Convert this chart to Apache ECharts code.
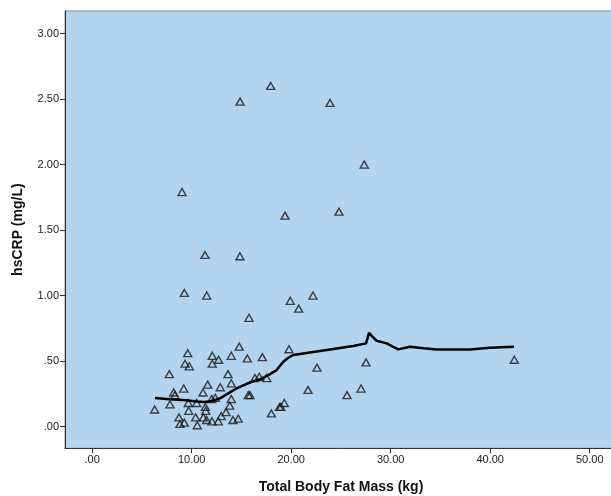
<!DOCTYPE html>
<html>
<head>
<meta charset="utf-8">
<script src="https://cdn.jsdelivr.net/npm/echarts@6/dist/echarts.min.js"></script>
<style>
  html, body { margin: 0; padding: 0; background: #fff; }
  #chart { width: 611px; height: 496px; }
</style>
</head>
<body>
<div id="chart"></div>
<script>
// fat mass (kg) and hsCRP (mg/L)
const fatMass = [
    6.28, 7.75, 7.82, 8.19, 8.32, 8.72, 8.82, 9.26, 9.20, 9.33,
    9.60, 9.76, 9.66, 9.70, 10.40, 10.50, 10.56, 11.14, 11.17, 11.37,
    11.41, 11.51, 11.61, 12.01, 12.04, 12.07, 12.07, 12.37, 12.67, 12.71,
    12.87, 12.97, 13.45, 13.65, 13.82, 13.98, 13.98, 13.98, 14.15, 14.68,
    14.78, 15.59, 15.69, 15.86, 16.36, 16.79, 17.10, 17.54, 18.01, 18.83,
    18.95, 19.31, 19.78, 21.69, 22.59, 25.61, 27.02, 27.52, 42.42,
    9.03, 19.38, 11.34, 14.85, 9.26, 11.51, 19.91, 20.75, 15.76, 17.94,
    23.90, 14.86, 27.34, 24.80, 22.19
];
const hsCRP = [
    0.13, 0.40, 0.17, 0.26, 0.24, 0.07, 0.02, 0.03, 0.29, 0.48,
    0.56, 0.46, 0.18, 0.12, 0.07, 0.18, 0.01, 0.26, 0.07, 0.15,
    0.12, 0.05, 0.32, 0.21, 0.04, 0.54, 0.48, 0.22, 0.04, 0.51,
    0.30, 0.08, 0.11, 0.40, 0.16, 0.54, 0.33, 0.21, 0.05, 0.06,
    0.61, 0.52, 0.24, 0.24, 0.37, 0.38, 0.53, 0.37, 0.10, 0.15,
    0.15, 0.18, 0.59, 0.28, 0.45, 0.24, 0.29, 0.49, 0.51,
    1.79, 1.61, 1.31, 1.30, 1.02, 1.00, 0.96, 0.90, 0.83, 2.60,
    2.47, 2.48, 2.00, 1.64, 1.00
];

// loess fit line
const fitX = [6.31, 7.82, 9.50, 10.50, 11.34, 12.01, 12.84, 13.68, 14.52, 15.19,
    16.03, 16.86, 17.70, 18.54, 19.21, 19.71, 20.21, 22.22, 24.23, 26.24,
    27.52, 27.82, 28.19, 28.59, 29.60, 30.26, 30.76, 31.94, 33.28, 34.62,
    37.97, 39.98, 42.39];
const fitY = [0.218, 0.208, 0.200, 0.192, 0.187, 0.195, 0.215, 0.253, 0.292, 0.315,
    0.342, 0.360, 0.393, 0.431, 0.495, 0.525, 0.546, 0.569, 0.592, 0.615,
    0.635, 0.716, 0.685, 0.655, 0.635, 0.609, 0.589, 0.609, 0.597, 0.589,
    0.589, 0.602, 0.609];

const xTicks = [0, 10, 20, 30, 40, 50];
const yTicks = [0, 0.5, 1, 1.5, 2, 2.5, 3];

const fmt = v => v.toFixed(2).replace(/^0\./, '.');
const labelFont = { fontFamily: 'Liberation Sans, Arial, sans-serif', fontSize: 11, color: '#222' };
const titleFont = { fontFamily: 'Liberation Sans, Arial, sans-serif', fontSize: 14, fontWeight: 'bold', color: '#111' };

const chart = echarts.init(document.getElementById('chart'));
chart.setOption({
    animation: false,
    grid: {
        left: 65, right: -6, top: 11, bottom: 47.7,
        outerBoundsMode: 'none',
        show: true, backgroundColor: '#b3d4ef', borderColor: '#888', borderWidth: 1
    },
    xAxis: {
        type: 'value', min: -2.73, max: 52.74,
        name: 'Total Body Fat Mass (kg)', nameLocation: 'middle', nameGap: 32,
        nameTextStyle: titleFont,
        axisLine: { show: true, onZero: false, lineStyle: { color: '#333', width: 1 } },
        axisTick: { show: true, length: 5, lineStyle: { color: '#333' }, customValues: xTicks },
        axisLabel: { ...labelFont, margin: 6, formatter: fmt, customValues: xTicks },
        splitLine: { show: false }
    },
    yAxis: {
        type: 'value', min: -0.166, max: 3.172,
        name: 'hsCRP (mg/L)', nameLocation: 'middle', nameGap: 40,
        nameTextStyle: titleFont,
        axisLine: { show: true, onZero: false, lineStyle: { color: '#333', width: 1 } },
        axisTick: { show: true, length: 5, lineStyle: { color: '#333' }, customValues: yTicks },
        axisLabel: { ...labelFont, margin: 6, formatter: fmt, customValues: yTicks },
        splitLine: { show: false }
    },
    series: [
        {
            type: 'scatter',
            symbol: 'triangle',
            symbolSize: [8, 7],
            itemStyle: { color: 'rgba(0,0,0,0)', borderColor: '#1a1a1a', borderWidth: 1.4 },
            data: fatMass.map((x, i) => [x, hsCRP[i]])
        },
        {
            type: 'line',
            showSymbol: false,
            symbol: 'none',
            lineStyle: { color: '#000', width: 2.5 },
            data: fitX.map((x, i) => [x, fitY[i]])
        }
    ]
});
</script>
</body>
</html>
